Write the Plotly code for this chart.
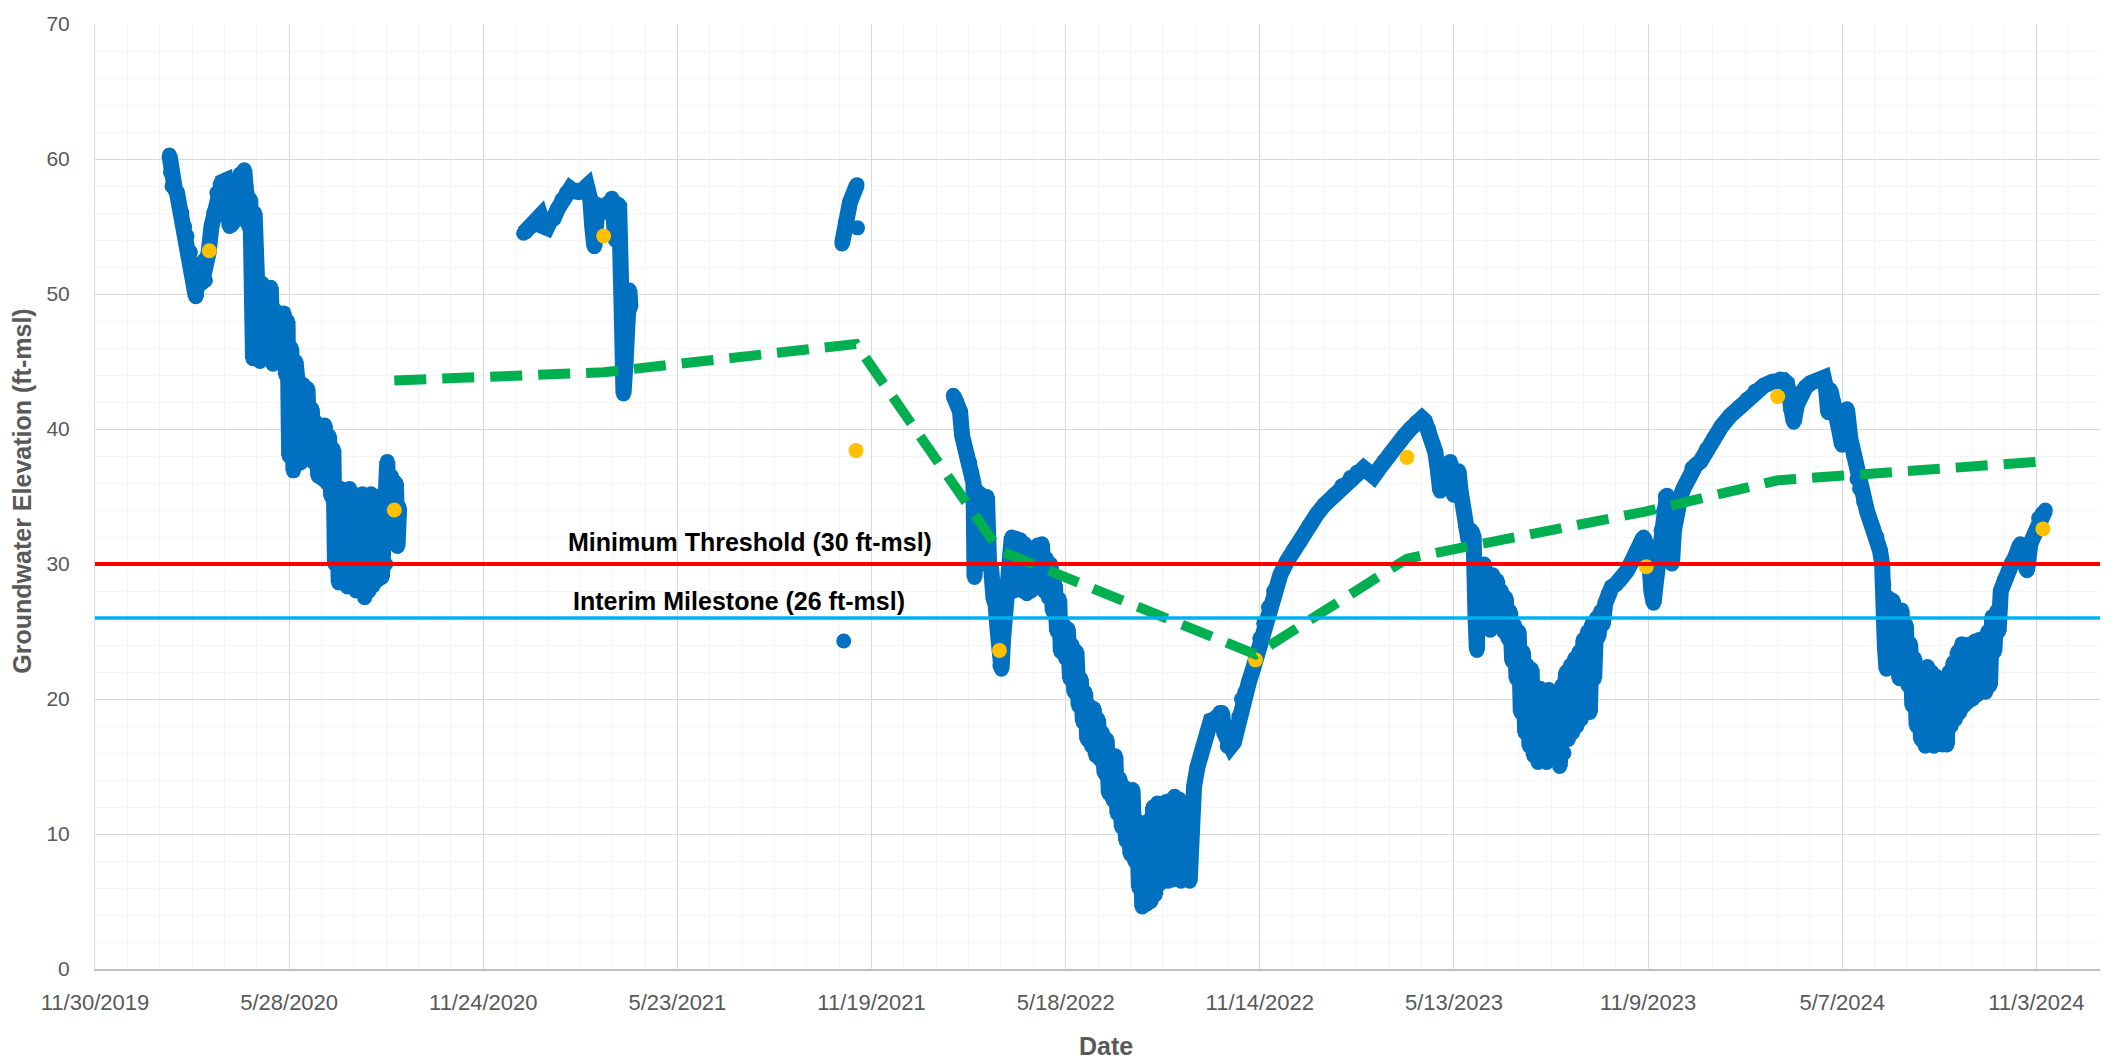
import pandas as pd
import plotly.graph_objects as go

# Day offsets are counted from the axis origin, 11/30/2019.
ORIGIN = pd.Timestamp("2019-11-30")

# Continuous transducer record (ft-msl), one list pair per logging period.
seg1_day = [69, 70, 71.4, 74, 76, 78, 80.6, 83, 85.3, 88.4, 90, 92, 93.5, 95, 97.6, 99,
            101, 102.3, 105.4, 108, 110, 113, 116, 118, 120.8, 122, 124.8, 126, 128,
            130, 132, 134.7, 136, 138.4, 140, 141, 142.5, 144, 145.5, 146.5, 148,
            149.5, 151, 153, 155, 157, 159, 161, 163, 165, 167, 169, 171, 173, 175,
            177, 178.5, 180, 182, 184, 186, 187.5, 189, 191, 193, 195, 197, 199, 201,
            203, 205, 207, 209, 211, 213, 215, 217, 219, 221, 222.5, 224, 226, 228,
            230, 232, 234, 236, 238, 240, 242, 244, 246, 248, 250, 252, 254, 256, 258,
            260, 262, 264, 266, 268, 269.5, 271, 273, 275, 277, 279, 280.5, 282]
seg1_val = [60.3, 59.0, 58.0, 57.8, 57.5, 56.5, 56.0, 55.0, 54.3, 53.1, 52.0, 50.5, 49.8,
            51.5, 52.1, 50.8, 52.5, 51.0, 53.1, 55.0, 56.0, 57.5, 58.1, 58.3, 58.4, 57.5,
            55.0, 56.5, 55.3, 56.2, 57.5, 58.9, 58.0, 59.2, 58.0, 57.5, 55.0, 57.0, 52.0,
            45.2, 56.0, 47.0, 50.6, 45.0, 50.8, 45.5, 50.4, 46.0, 50.5, 44.8, 48.8, 46.0,
            48.6, 45.5, 48.6, 44.0, 48.0, 38.0, 46.0, 36.9, 45.0, 38.5, 42.5, 37.5, 43.3,
            38.0, 43.0, 38.5, 41.5, 37.5, 40.5, 36.5, 40.0, 36.3, 40.3, 36.0, 39.5, 35.0,
            38.5, 30.0, 35.5, 28.6, 35.6, 28.8, 35.3, 28.3, 35.6, 28.4, 35.2, 28.0, 35.0,
            28.0, 35.2, 27.5, 35.0, 28.0, 35.2, 28.4, 35.0, 28.8, 35.0, 29.0, 34.5, 30.0,
            37.6, 31.5, 36.5, 31.8, 36.0, 31.3, 34.2]

seg2_day = [397.4, 402, 406.7, 410, 412.9, 416, 419, 422, 425.2, 429, 433, 437, 440.7,
            444, 448.4, 452, 456.1, 459.2, 461, 463, 465, 467, 471, 474.7, 477, 479.3,
            481, 482.4, 484, 486, 488, 490, 492, 493.5, 495.5, 496.5]
seg2_val = [54.5, 54.9, 55.1, 55.5, 55.8, 55.0, 54.9, 55.4, 55.6, 56.3, 57.0, 57.5, 57.8,
            57.6, 57.5, 57.7, 58.0, 57.0, 55.0, 53.5, 55.5, 56.5, 56.3, 56.7, 56.0, 57.1,
            55.5, 54.0, 56.7, 56.5, 50.0, 42.6, 45.0, 47.5, 50.3, 49.0]

seg3_day = [692.6, 695.7, 700, 706.5]
seg3_val = [53.7, 55.3, 56.8, 58.1]

# Isolated readings
single_day = [694.2, 707]
single_val = [24.3, 54.9]

seg4_day = [795.8, 799, 802, 804, 806.5, 809, 811, 813, 814.5, 815.5, 817, 819, 821, 823,
            825, 827, 829, 831, 833, 835, 837, 839, 840.5, 842, 844, 846, 848, 850, 852,
            854, 856, 858, 860, 862, 864, 866, 868, 870, 872, 874, 876, 878, 880, 882,
            884, 886, 888, 890, 892, 894, 895.5, 898, 900, 902, 904, 906, 908, 910, 912,
            914, 916, 918, 920, 922, 924, 926, 928, 930, 932, 934, 936, 938, 940, 942,
            944, 946, 948, 950, 952, 954, 956, 958, 960, 962, 964, 966, 968, 969.5, 971,
            973, 975, 977, 979, 981, 983, 985, 987, 989, 991, 993, 995, 997, 999, 1001,
            1003, 1005, 1007, 1009, 1011, 1013, 1015, 1017, 1019, 1022, 1025, 1028, 1031,
            1034.5, 1038, 1040.6, 1043, 1045, 1047, 1049.8, 1053, 1056, 1058, 1060.5,
            1063, 1066, 1070, 1074, 1077.4, 1080, 1083.6, 1088, 1092.8, 1099, 1105.2,
            1111, 1117.6, 1125, 1133, 1140, 1148.5, 1156, 1164, 1170, 1176.3, 1181,
            1185.5, 1190, 1194.8, 1201, 1207.2, 1213, 1219.5, 1225, 1230.3, 1233,
            1236.5, 1239, 1242.7, 1245, 1247.3, 1250, 1252, 1254, 1256.6, 1258, 1259.7,
            1262, 1264.3, 1266, 1267.4, 1270.5, 1273.6, 1276, 1278.2, 1280, 1281.3, 1283,
            1284.4, 1286, 1288, 1290, 1292, 1293.7, 1296, 1298.3, 1300, 1302, 1304, 1306,
            1308, 1310, 1312, 1314, 1316, 1318, 1320, 1322, 1324, 1326, 1328, 1330, 1332,
            1334, 1336, 1338, 1340, 1342, 1344, 1346, 1348, 1350, 1352, 1354, 1356, 1358,
            1360, 1362, 1364, 1366, 1368, 1370, 1372, 1374, 1376, 1378, 1380, 1382, 1384,
            1386, 1388, 1390, 1392, 1394, 1396, 1398, 1400.3, 1403, 1406.4, 1410, 1414.2,
            1417, 1420.4, 1425, 1429.6, 1433, 1435.8, 1438, 1440.5, 1443, 1445.1, 1447,
            1449.8, 1452, 1454.4, 1456, 1457.5, 1460, 1462.1, 1464, 1466.8, 1470, 1472.9,
            1477, 1480.6, 1484, 1488.5, 1494, 1500.8, 1508, 1516.3, 1524, 1531.7, 1539,
            1547.2, 1555, 1562.6, 1566, 1568.8, 1572, 1575, 1578, 1581.2, 1586, 1590.4,
            1596, 1602.8, 1605, 1607, 1609, 1612, 1615.2, 1617, 1619.8, 1622, 1624.4,
            1627.5, 1630.6, 1633.7, 1636, 1639.9, 1643, 1646, 1649, 1652.2, 1655, 1657,
            1658.5, 1659.5, 1661, 1663, 1665, 1667, 1669, 1671, 1673, 1675, 1677, 1679,
            1681, 1683, 1685, 1687, 1689, 1691, 1693, 1695, 1697, 1699, 1701, 1703, 1705,
            1707, 1709, 1711, 1713, 1715, 1717, 1719, 1721, 1723, 1725, 1727, 1729, 1731,
            1733, 1735, 1737, 1739, 1741, 1743, 1745, 1747, 1749, 1751, 1753, 1755, 1757,
            1759, 1761, 1763, 1765, 1767, 1770, 1774.3, 1777, 1780.4, 1783, 1785.1, 1788,
            1791.3, 1794.4, 1797, 1799, 1802.1, 1805, 1808.3]
seg4_val = [42.5, 42.0, 41.3, 39.5, 38.6, 38.0, 37.5, 36.8, 36.0, 29.0, 35.5, 30.5, 35.2,
            30.0, 34.5, 35.0, 30.0, 29.6, 27.5, 27.0, 25.0, 22.5, 22.2, 24.5, 26.5, 28.5,
            30.5, 32.0, 28.0, 31.9, 28.5, 31.8, 28.0, 31.5, 27.8, 31.2, 28.0, 31.2, 28.3,
            31.4, 28.6, 31.5, 28.0, 30.4, 27.5, 30.0, 26.5, 28.5, 25.0, 27.4, 23.5, 25.5,
            23.0, 25.2, 21.5, 24.0, 20.5, 23.5, 19.5, 21.5, 18.3, 20.5, 17.0, 19.5, 16.5,
            19.3, 15.8, 18.5, 15.5, 17.5, 14.5, 17.0, 13.0, 15.8, 12.5, 15.8, 11.5, 14.1,
            10.5, 13.5, 9.5, 12.5, 8.5, 13.3, 8.0, 11.0, 6.0, 10.3, 4.6, 10.0, 4.8, 11.0,
            5.0, 12.0, 5.5, 12.3, 6.3, 12.0, 6.5, 12.4, 6.5, 12.5, 6.6, 12.8, 7.0, 12.6,
            6.5, 12.0, 6.8, 11.5, 6.5, 12.2, 13.5, 14.9, 15.8, 16.5, 17.5, 18.4, 18.5,
            18.7, 19.0, 19.0, 17.5, 16.5, 16.5, 16.8, 17.5, 18.7, 20.0, 20.5, 21.3, 22.3,
            23.2, 24.5, 25.6, 26.8, 28.0, 29.2, 30.2, 31.0, 31.7, 32.8, 33.7, 34.4, 35.1,
            35.8, 36.4, 36.8, 37.1, 36.8, 36.5, 37.0, 37.6, 38.2, 38.8, 39.4, 40.0, 40.5,
            40.8, 40.6, 40.0, 39.2, 38.3, 37.0, 35.4, 36.5, 37.4, 36.5, 37.6, 36.0, 35.1,
            36.5, 36.9, 35.5, 34.7, 32.9, 31.7, 32.5, 32.0, 26.0, 23.6, 30.0, 29.5, 25.5,
            30.0, 26.0, 29.0, 25.1, 29.2, 26.0, 28.8, 25.5, 28.0, 25.0, 27.5, 24.5, 26.5,
            22.8, 25.5, 21.5, 25.0, 19.0, 23.5, 17.5, 22.5, 16.5, 22.2, 15.8, 20.5, 15.3,
            20.8, 15.5, 20.5, 15.3, 20.7, 15.5, 20.0, 15.5, 20.5, 15.0, 21.0, 16.0, 22.0,
            17.0, 22.5, 17.5, 23.0, 18.0, 23.5, 18.5, 24.4, 19.0, 25.0, 19.0, 25.6, 21.5,
            26.0, 24.6, 26.5, 25.5, 27.1, 27.8, 28.3, 28.5, 28.8, 29.1, 29.5, 30.2, 31.0,
            31.6, 32.0, 31.5, 31.0, 28.0, 27.1, 28.5, 30.5, 32.5, 33.9, 35.0, 35.1, 32.0,
            30.0, 32.5, 34.4, 35.0, 35.6, 36.3, 37.1, 37.3, 37.6, 38.5, 39.3, 40.2, 41.0,
            41.6, 42.2, 42.8, 43.2, 43.5, 43.7, 43.6, 43.4, 41.5, 40.5, 41.8, 42.7, 43.1,
            43.4, 43.6, 43.8, 43.0, 41.2, 42.9, 42.0, 41.5, 40.0, 38.8, 40.5, 41.5, 39.3,
            38.0, 36.3, 35.6, 34.6, 33.9, 33.2, 32.6, 32.0, 31.0, 30.0, 28.5, 24.0, 22.2,
            27.5, 23.0, 27.3, 22.5, 26.5, 21.5, 26.6, 21.5, 25.5, 21.0, 24.1, 19.5, 23.0,
            18.0, 22.0, 17.0, 22.0, 16.5, 22.4, 17.0, 22.0, 16.5, 21.7, 17.0, 21.5, 16.6,
            21.0, 16.6, 22.0, 18.0, 22.7, 18.5, 23.5, 19.0, 24.1, 19.5, 24.0, 19.8, 24.1,
            20.0, 24.3, 20.3, 24.4, 20.5, 24.5, 20.5, 25.0, 21.0, 26.1, 23.5, 26.5, 25.0,
            28.0, 28.8, 29.5, 30.0, 30.5, 31.0, 31.5, 30.5, 29.5, 31.5, 32.0, 32.4, 33.4,
            33.7, 34.0]

# Seasonal high / low measurements
seasonal_day = [106, 277.5, 471.6, 705.6, 838.6, 1076, 1216.4, 1438.3, 1560.2, 1806.1]
seasonal_val = [53.2, 34.0, 54.3, 38.4, 23.6, 22.9, 37.9, 29.8, 42.4, 32.6]

# Trend (pairwise average of seasonal measurements)
trend_day = [277.5, 471.6, 705.6, 838.6, 1076, 1216.4, 1438.3, 1560.2, 1806.1]
trend_val = [43.6, 44.2, 46.3, 31.0, 23.3, 30.4, 33.9, 36.2, 37.6]

MIN_THRESHOLD = 30
INTERIM_MILESTONE = 26

tick_labels = ["11/30/2019", "5/28/2020", "11/24/2020", "5/23/2021", "11/19/2021",
               "5/18/2022", "11/14/2022", "5/13/2023", "11/9/2023", "5/7/2024",
               "11/3/2024"]
AXIS_END_DAY = 1859


def to_dates(days):
    return [None if d is None else ORIGIN + pd.Timedelta(days=d) for d in days]


blue_day, blue_val = [], []
for d, v in [(seg1_day, seg1_val), (seg2_day, seg2_val), (seg3_day, seg3_val),
             (seg4_day, seg4_val)] + [([a], [b]) for a, b in zip(single_day, single_val)]:
    blue_day += d + [None]
    blue_val += v + [None]

GRAY = "#595959"
BLUE = "#0070C0"
fig = go.Figure()

fig.add_trace(go.Scatter(
    x=to_dates(blue_day), y=blue_val, mode="lines+markers",
    line=dict(color=BLUE, width=16),
    marker=dict(color=BLUE, size=15),
    connectgaps=False, hoverinfo="x+y"))

fig.add_trace(go.Scatter(
    x=to_dates(seasonal_day), y=seasonal_val, mode="markers",
    marker=dict(color="#FFC000", size=15)))

fig.add_trace(go.Scatter(
    x=to_dates(trend_day), y=trend_val, mode="lines",
    line=dict(color="#00B050", width=10, dash="32px,16px")))

for level, color, width in [(MIN_THRESHOLD, "#FF0000", 4), (INTERIM_MILESTONE, "#00B0F0", 3.5)]:
    fig.add_shape(type="line", xref="x domain", x0=0, x1=1, yref="y", y0=level, y1=level,
                  line=dict(color=color, width=width), layer="above")

label_font = dict(family="Liberation Sans, Arial, sans-serif", size=25, color="black")
fig.add_annotation(x=ORIGIN + pd.Timedelta(days=607), y=MIN_THRESHOLD, yshift=22,
                   text="<b>Minimum Threshold (30 ft-msl)</b>", showarrow=False,
                   font=label_font, xanchor="center", yanchor="middle")
fig.add_annotation(x=ORIGIN + pd.Timedelta(days=597), y=INTERIM_MILESTONE, yshift=17,
                   text="<b>Interim Milestone (26 ft-msl)</b>", showarrow=False,
                   font=label_font, xanchor="center", yanchor="middle")

title_font = dict(family="Liberation Sans, Arial, sans-serif", size=25, color=GRAY)
fig.add_annotation(xref="paper", yref="paper", x=-0.0365, y=0.506, textangle=-90,
                   text="<b>Groundwater Elevation (ft-msl)</b>", showarrow=False,
                   font=title_font, xanchor="center", yanchor="middle")
fig.add_annotation(xref="paper", yref="paper", x=0.504, y=-0.081,
                   text="<b>Date</b>", showarrow=False,
                   font=title_font, xanchor="center", yanchor="middle")

fig.update_xaxes(
    type="date", range=[ORIGIN, ORIGIN + pd.Timedelta(days=AXIS_END_DAY)],
    tickmode="array", tickvals=pd.to_datetime(tick_labels, format="%m/%d/%Y"),
    ticktext=tick_labels, ticks="", ticklabelstandoff=13,
    tickfont=dict(family="Liberation Sans, Arial, sans-serif", size=22, color=GRAY),
    showgrid=True, gridcolor="#D9D9D9", gridwidth=1,
    showline=True, linecolor="#BFBFBF", linewidth=2, zeroline=False,
    minor=dict(showgrid=True, gridcolor="#F5F5F5", gridwidth=1,
               tick0=ORIGIN, dtick=30 * 86400000))
fig.update_yaxes(
    range=[0, 70], tickmode="linear", tick0=0, dtick=10,
    tickfont=dict(family="Liberation Sans, Arial, sans-serif", size=21, color=GRAY),
    ticks="", ticklabelstandoff=20,
    showgrid=True, gridcolor="#D9D9D9", gridwidth=1,
    showline=True, linecolor="#D9D9D9", linewidth=1, zeroline=False,
    minor=dict(showgrid=True, gridcolor="#F5F5F5", gridwidth=1, dtick=2))

fig.update_layout(
    width=2121, height=1061, autosize=False,
    margin=dict(l=95, r=21, t=16, b=92),
    plot_bgcolor="white", paper_bgcolor="white",
    showlegend=False)

fig.write_html("out.html")
